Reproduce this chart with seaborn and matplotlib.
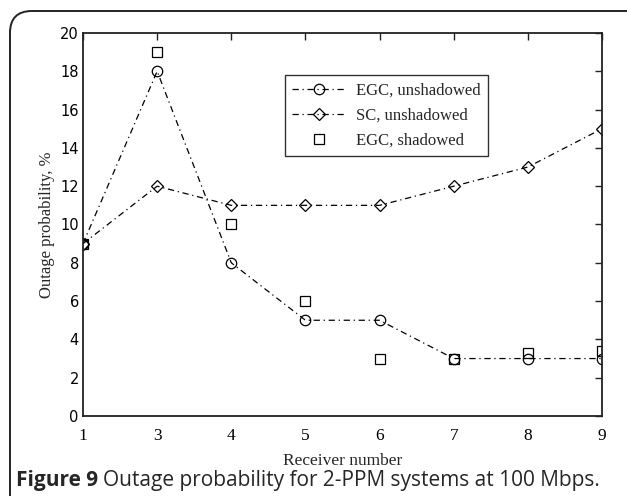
import matplotlib
matplotlib.use("Agg")
import matplotlib.pyplot as plt
from matplotlib.patches import FancyBboxPatch
import seaborn as sns
import pandas as pd

# ---- data ----
receivers = ["1", "3", "4", "5", "6", "7", "8", "9"]
egc_unshadowed = [9, 18, 8, 5, 5, 3, 3, 3]
sc_unshadowed = [9, 12, 11, 11, 11, 12, 13, 15]
egc_shadowed = [9, 19, 10, 6, 3, 3, 3.3, 3.4]
y_ticks = [0, 2, 4, 6, 8, 10, 12, 14, 16, 18, 20]

sns.set_theme(style="white")
plt.rcParams["font.family"] = ["DejaVu Sans"]

W, H = 627, 496
fig = plt.figure(figsize=(W / 100, H / 100), dpi=100)
fig.patch.set_facecolor("white")

# rounded outer frame
box = FancyBboxPatch((10 / W, -0.05), 1.2, (496 - 11) / H + 0.05,
                     boxstyle="round,pad=0,rounding_size=0.035",
                     transform=fig.transFigure, fill=False,
                     edgecolor="#222222", linewidth=1.4, mutation_aspect=W / H)
fig.patches.append(box)

ax = fig.add_axes([83 / W, 1 - 416 / H, 519 / W, 383 / H])
pos = list(range(len(receivers)))
df = pd.DataFrame({"pos": pos, "egc_u": egc_unshadowed,
                   "sc_u": sc_unshadowed, "egc_s": egc_shadowed})

dash = (5, 3, 1, 3)
common = dict(color="black", linewidth=0.9, markerfacecolor="none",
              markeredgecolor="black", markeredgewidth=0.9)
sns.lineplot(data=df, x="pos", y="egc_u", ax=ax, marker="o", markersize=7.5,
             dashes=False, label="EGC, unshadowed", **common)
sns.lineplot(data=df, x="pos", y="sc_u", ax=ax, marker="D", markersize=6,
             dashes=False, label="SC, unshadowed", **common)
sns.lineplot(data=df, x="pos", y="egc_s", ax=ax, marker="s", markersize=6.5,
             linestyle="none", label="EGC, shadowed", **common)
for ln in ax.get_lines()[:2]:
    ln.set_dashes(dash)

ax.set_xlim(0, len(receivers) - 1)
ax.set_ylim(0, 20)
ax.set_xticks(pos)
ax.set_xticklabels(receivers, fontfamily="Liberation Serif", fontsize=12.5)
ax.set_yticks(y_ticks)
ax.set_yticklabels([str(v) for v in y_ticks], fontfamily="DejaVu Sans", fontsize=10.5)
ax.tick_params(direction="in", length=5, width=1, top=True, right=True,
               colors="#222222", labelcolor="black")
ax.tick_params(axis="x", pad=9)
ax.tick_params(axis="y", pad=3)
for s in ax.spines.values():
    s.set_color("#222222")
    s.set_linewidth(1.3)
ax.grid(False)

ax.set_xlabel("Receiver number", fontfamily="Liberation Serif", fontsize=12.5, labelpad=6)
ax.set_ylabel("Outage probability, %", fontfamily="Liberation Serif", fontsize=12, labelpad=4)

leg = ax.legend(loc="upper left", bbox_to_anchor=(0.389, 0.890), borderaxespad=0,
                frameon=True, fancybox=False, shadow=False, handlelength=3.2,
                handletextpad=0.6, borderpad=0.45, labelspacing=0.55,
                prop={"family": "Liberation Serif", "size": 12})
leg.get_frame().set_edgecolor("black")
leg.get_frame().set_linewidth(1.0)
for h in leg.get_lines()[:2]:
    h.set_dashes(dash)

# caption: bold part + regular part
fig.canvas.draw()
r = fig.canvas.get_renderer()
t1 = fig.text(16 / W, 1 - 486 / H, "Figure 9", fontfamily="Open Sans",
              fontweight="bold", fontsize=15, va="baseline", ha="left")
bb = t1.get_window_extent(renderer=r)
fig.text((bb.x1 + 5) / W, 1 - 486 / H,
         "Outage probability for 2-PPM systems at 100 Mbps.",
         fontfamily="Open Sans", fontsize=15, va="baseline", ha="left")

fig.savefig("out.png", dpi=100)
